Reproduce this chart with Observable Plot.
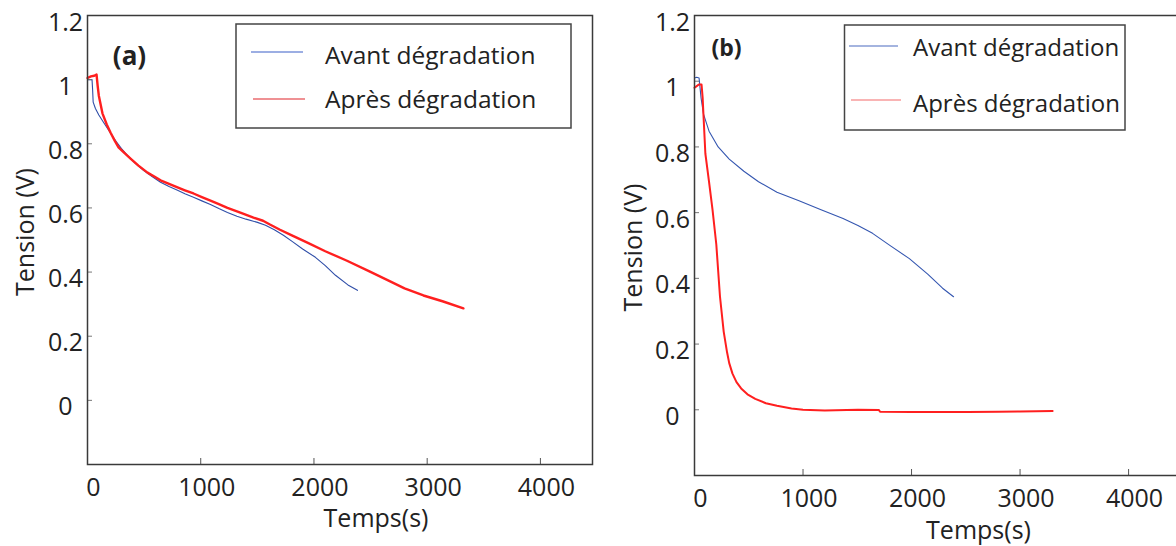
<!DOCTYPE html>
<html>
<head>
<meta charset="utf-8">
<script src="https://cdn.jsdelivr.net/npm/d3@7"></script>
<script src="https://cdn.jsdelivr.net/npm/@observablehq/plot@0.6"></script>
<style>
  html, body { margin: 0; padding: 0; background: #fff; }
  body { width: 1176px; height: 546px; overflow: hidden; position: relative; font-family: "Open Sans", sans-serif; }
  .panel { position: absolute; top: 0; }
  .panel svg { max-width: none !important; height: 546px !important; }
  #legend { position: absolute; left: 0; top: 0; pointer-events: none; }
</style>
</head>
<body>
<div id="pa" class="panel" style="left:0px;width:600px"></div>
<div id="pb" class="panel" style="left:600px;width:590px"></div>
<svg id="legend" width="1176" height="546"></svg>
<script>
// ---------- data ----------
const seriesNames = ["Avant dégradation", "Après dégradation"];
const panelLabels = ["(a)", "(b)"];
const xTicks = [0, 1000, 2000, 3000, 4000];
const yTicks = [0, 0.2, 0.4, 0.6, 0.8, 1, 1.2];
const xTitle = "Temps(s)";
const yTitle = "Tension (V)";

// Panel (a) – before degradation
const aAvantT = [0, 40, 45, 50, 70, 100, 141, 200, 247, 300, 353, 420, 494, 570, 645, 720, 795, 860, 936, 1010, 1086, 1160, 1236, 1320, 1400, 1501, 1572, 1650, 1730, 1810, 1900, 2013, 2100, 2190, 2300, 2384];
const aAvantV = [1.0, 1.0, 0.97, 0.93, 0.91, 0.89, 0.867, 0.835, 0.81, 0.785, 0.764, 0.74, 0.717, 0.698, 0.68, 0.667, 0.655, 0.644, 0.633, 0.622, 0.611, 0.598, 0.586, 0.574, 0.565, 0.555, 0.546, 0.532, 0.515, 0.495, 0.472, 0.446, 0.42, 0.39, 0.36, 0.343];
// Panel (a) – after degradation
const aApresT = [0, 30, 60, 80, 90, 100, 132, 170, 203, 240, 274, 330, 380, 450, 530, 590, 645, 720, 795, 860, 936, 1010, 1086, 1160, 1236, 1350, 1466, 1550, 1607, 1700, 1800, 1951, 2100, 2287, 2490, 2650, 2800, 2967, 3135, 3320];
const aApresV = [1.005, 1.01, 1.012, 1.016, 0.98, 0.95, 0.895, 0.86, 0.835, 0.81, 0.789, 0.77, 0.754, 0.732, 0.71, 0.698, 0.686, 0.675, 0.664, 0.655, 0.645, 0.634, 0.623, 0.612, 0.60, 0.585, 0.57, 0.56, 0.549, 0.532, 0.515, 0.49, 0.465, 0.436, 0.402, 0.375, 0.349, 0.327, 0.309, 0.287];

// Panel (b) – before degradation
const bAvantT = [0, 20, 42, 60, 83, 134, 218, 320, 455, 590, 760, 963, 1166, 1369, 1506, 1641, 1810, 1980, 2149, 2286, 2387];
const bAvantV = [1.01, 1.012, 1.01, 0.95, 0.90, 0.848, 0.80, 0.763, 0.726, 0.694, 0.662, 0.636, 0.609, 0.582, 0.561, 0.537, 0.498, 0.46, 0.413, 0.37, 0.344];
// Panel (b) – after degradation
const bApresT = [0, 20, 40, 65, 75, 83, 100, 134, 166, 201, 235, 269, 300, 320, 350, 387, 430, 488, 560, 658, 760, 894, 1000, 1200, 1506, 1700, 1710, 2000, 2522, 2800, 3000, 3300];
const bApresV = [0.98, 0.985, 0.99, 0.99, 0.95, 0.895, 0.78, 0.694, 0.609, 0.503, 0.344, 0.238, 0.175, 0.142, 0.11, 0.084, 0.065, 0.047, 0.033, 0.02, 0.012, 0.004, 0.0, -0.002, 0.0, -0.001, -0.006, -0.007, -0.007, -0.006, -0.005, -0.004];

// ---------- helpers ----------
const toRows = (T, V) => T.map((t, i) => ({t, v: V[i]}));
const FONT = "Open Sans";

function panel({avant, apres, width, mL, mR, mB, label, labelDx, labelDy, labelSize,
                yTitleDx, yTitleDy, xTitleDx, xTitleDy, blue, red, redW}) {
  return Plot.plot({
    width, height: 546,
    marginLeft: mL, marginRight: mR, marginTop: 15, marginBottom: mB,
    x: {domain: [0, 4460]},
    y: {domain: [-0.2, 1.2]},
    style: {fontFamily: FONT, color: "#222", background: "transparent", overflow: "visible"},
    marks: [
      Plot.line(avant, {x: "t", y: "v", stroke: blue, strokeWidth: 1.1}),
      Plot.line(apres, {x: "t", y: "v", stroke: red, strokeWidth: redW}),
      Plot.axisY(yTicks, {tickSize: -5, tickFormat: () => "", label: null, stroke: "#777"}),
      Plot.axisX(xTicks, {tickSize: -6, tickFormat: () => "", label: null, stroke: "#555"}),
      Plot.axisY(yTicks, {tickSize: 0, tickPadding: 22, textAnchor: "middle", dy: 7, fontSize: 25, fill: "#222", label: null, tickFormat: d => String(d)}),
      Plot.axisX(xTicks, {tickSize: 0, tickPadding: 14, dx: 6, fontSize: 25, fill: "#222", label: null, tickFormat: d => String(d)}),
      Plot.frame({stroke: "#3a3a3a", strokeWidth: 1.5}),
      Plot.text([yTitle], {text: d => d, frameAnchor: "left", textAnchor: "middle", lineAnchor: "middle", rotate: -90, dx: yTitleDx, dy: yTitleDy, fontSize: 25, fill: "#222"}),
      Plot.text([xTitle], {text: d => d, frameAnchor: "bottom", textAnchor: "middle", lineAnchor: "middle", dx: xTitleDx, dy: xTitleDy, fontSize: 25, fill: "#222"}),
      Plot.text([label], {text: d => d, frameAnchor: "top-left", textAnchor: "middle", lineAnchor: "middle", dx: labelDx, dy: labelDy, fontSize: labelSize, fontWeight: "bold", fill: "#222"})
    ]
  });
}

document.getElementById("pa").append(panel({
  avant: toRows(aAvantT, aAvantV), apres: toRows(aApresT, aApresV),
  width: 600, mL: 87, mR: 8, mB: 82, label: panelLabels[0], labelDx: 42, labelDy: 41, labelSize: 26,
  yTitleDx: -62, yTitleDy: -8, xTitleDx: 36, xTitleDy: 54,
  blue: "#2f4ea8", red: "#ff1f1f", redW: 2.4
}));
document.getElementById("pb").append(panel({
  avant: toRows(bAvantT, bAvantV), apres: toRows(bApresT, bApresV),
  width: 590, mL: 94, mR: 12, mB: 71, label: panelLabels[1], labelDx: 32, labelDy: 33, labelSize: 23,
  yTitleDx: -61, yTitleDy: 2, xTitleDx: 42, xTitleDy: 55,
  blue: "#3456b0", red: "#ff1f1f", redW: 2.0
}));

// ---------- legends ----------
const legends = [
  {box: [236, 24, 335, 104], lines: [[251, 303, 52], [253, 305, 99]], textX: 325, base: [64, 108], colors: ["#3a5fc8", "#e0242a"], size: 24.5},
  {box: [844.5, 25, 280.5, 105], lines: [[849, 898, 46], [851, 901, 100]], textX: 913, base: [55.5, 112], colors: ["#4a6ac0", "#f46a6a"], size: 24}
];
const svg = d3.select("#legend");
legends.forEach(L => {
  svg.append("rect").attr("x", L.box[0]).attr("y", L.box[1]).attr("width", L.box[2]).attr("height", L.box[3])
    .attr("fill", "#fff").attr("stroke", "#444").attr("stroke-width", 1.5);
  L.lines.forEach((ln, i) => {
    svg.append("line").attr("x1", ln[0]).attr("x2", ln[1]).attr("y1", ln[2]).attr("y2", ln[2])
      .attr("stroke", L.colors[i]).attr("stroke-width", 1.2);
    svg.append("text").attr("x", L.textX).attr("y", L.base[i]).attr("font-family", FONT)
      .attr("font-size", L.size).attr("fill", "#222").text(seriesNames[i]);
  });
});
</script>
</body>
</html>
